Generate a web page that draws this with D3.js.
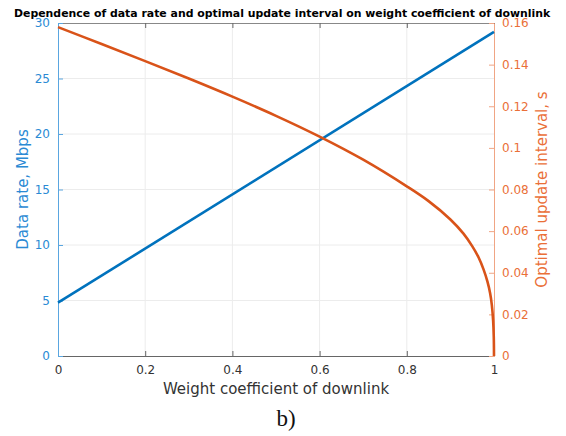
<!DOCTYPE html>
<html>
<head>
<meta charset="utf-8">
<script src="https://cdn.jsdelivr.net/npm/d3@7"></script>
<style>
  body { margin: 0; background: #fff; }
  svg { display: block; }
  text { font-family: "DejaVu Sans", sans-serif; }
</style>
</head>
<body>
<svg id="chart" width="566" height="436"></svg>
<script>
// Data
let weightX = [0, 1];
let dataRate = [4.8, 29.2];

let intervalX = [0, 0.1, 0.2, 0.3, 0.4, 0.5, 0.6, 0.7, 0.8, 0.85, 0.9, 0.93, 0.95, 0.965, 0.976, 0.985, 0.991, 0.995, 0.998, 0.9995, 1];
let updateInterval = [0.158, 0.1499, 0.1417, 0.1333, 0.1246, 0.1154, 0.1054, 0.0943, 0.0815, 0.0744, 0.0656, 0.0588, 0.0528, 0.0472, 0.0416, 0.0357, 0.0303, 0.0246, 0.017, 0.009, 0];

let xTicks = [0, 0.2, 0.4, 0.6, 0.8, 1];
let leftTicks = [0, 5, 10, 15, 20, 25, 30];
let rightTicks = [0, 0.02, 0.04, 0.06, 0.08, 0.1, 0.12, 0.14, 0.16];

let blue = '#0072BD';
let blueText = '#2a8ad4';
let orange = '#D95319';
let orangeText = '#ea6f38';

let margin = {left: 58, right: 72, top: 23, bottom: 80};
let w = 566, h = 436;

let svg = d3.select('#chart');

let x = d3.scaleLinear().domain([0, 1]).range([margin.left, w - margin.right]);
let yL = d3.scaleLinear().domain([0, 30]).range([h - margin.bottom, margin.top]);
let yR = d3.scaleLinear().domain([0, 0.16]).range([h - margin.bottom, margin.top]);

// grid
let grid = svg.append('g');
grid.selectAll('line.gx').data(xTicks.slice(1, -1)).enter().append('line')
  .attr('x1', d => x(d)).attr('x2', d => x(d))
  .attr('y1', yL(0)).attr('y2', yL(30))
  .style('stroke', '#ececec').style('stroke-width', 1);
grid.selectAll('line.gy').data(leftTicks.slice(1, -1)).enter().append('line')
  .attr('x1', x(0)).attr('x2', x(1))
  .attr('y1', d => yL(d)).attr('y2', d => yL(d))
  .style('stroke', '#ececec').style('stroke-width', 1);

// axes (MATLAB style, inward ticks)
let bottomAxis = svg.append('g')
  .attr('transform', `translate(0,${yL(0)})`)
  .call(d3.axisBottom(x).tickValues(xTicks).tickSizeInner(-5).tickSizeOuter(0).tickPadding(9)
    .tickFormat(d => d3.format('~g')(d)));
bottomAxis.select('.domain').style('stroke', '#666');
bottomAxis.selectAll('.tick line').style('stroke', '#666');
bottomAxis.selectAll('text').style('font-size', '12px').style('fill', '#333')
  .style('font-family', '"DejaVu Sans", sans-serif');

let topAxis = svg.append('g')
  .attr('transform', `translate(0,${yL(30)})`)
  .call(d3.axisTop(x).tickValues(xTicks).tickSizeInner(-5).tickSizeOuter(0).tickFormat(''));
topAxis.select('.domain').style('stroke', '#888');
topAxis.selectAll('.tick line').style('stroke', '#666');

let leftAxis = svg.append('g')
  .attr('transform', `translate(${x(0)},0)`)
  .call(d3.axisLeft(yL).tickValues(leftTicks).tickSizeInner(-5).tickSizeOuter(0).tickPadding(8));
leftAxis.select('.domain').style('stroke', '#5aa6e0');
leftAxis.selectAll('.tick line').style('stroke', '#5aa6e0');
leftAxis.selectAll('text').style('font-size', '12px').style('fill', blueText)
  .style('font-family', '"DejaVu Sans", sans-serif');

let rightAxis = svg.append('g')
  .attr('transform', `translate(${x(1)},0)`)
  .call(d3.axisRight(yR).tickValues(rightTicks).tickSizeInner(-5).tickSizeOuter(0).tickPadding(8)
    .tickFormat(d => d3.format('~g')(d)));
rightAxis.select('.domain').style('stroke', '#f0a584');
rightAxis.selectAll('.tick line').style('stroke', '#f0a584');
rightAxis.selectAll('text').style('font-size', '12px').style('fill', orangeText)
  .style('font-family', '"DejaVu Sans", sans-serif');

// lines
let lineL = d3.line().x((d, i) => x(weightX[i])).y(d => yL(d));
svg.append('path').datum(dataRate).attr('d', lineL)
  .style('fill', 'none').style('stroke', blue).style('stroke-width', 2.6);

let lineR = d3.line().x((d, i) => x(intervalX[i])).y(d => yR(d)).curve(d3.curveCatmullRom.alpha(0.5));
svg.append('path').datum(updateInterval).attr('d', lineR)
  .style('fill', 'none').style('stroke', orange).style('stroke-width', 2.6);

// labels
svg.append('text')
  .attr('x', 14).attr('y', 17)
  .style('font-size', '10.9px').style('font-weight', 'bold').style('fill', '#000')
  .text('Dependence of data rate and optimal update interval on weight coefficient of downlink');

svg.append('text')
  .attr('transform', `translate(28,${(yL(0) + yL(30)) / 2}) rotate(-90)`)
  .attr('text-anchor', 'middle')
  .style('font-size', '15px').style('fill', blueText)
  .text('Data rate, Mbps');

svg.append('text')
  .attr('transform', `translate(547,${(yL(0) + yL(30)) / 2}) rotate(-90)`)
  .attr('text-anchor', 'middle')
  .style('font-size', '15px').style('fill', orangeText)
  .text('Optimal update interval, s');

svg.append('text')
  .attr('x', (x(0) + x(1)) / 2).attr('y', 394)
  .attr('text-anchor', 'middle')
  .style('font-size', '15px').style('fill', '#333')
  .text('Weight coefficient of downlink');

svg.append('text')
  .attr('x', 286).attr('y', 426)
  .attr('text-anchor', 'middle')
  .style('font-family', '"Liberation Serif", serif')
  .style('font-size', '23px').style('fill', '#111')
  .text('b)');
</script>
</body>
</html>
